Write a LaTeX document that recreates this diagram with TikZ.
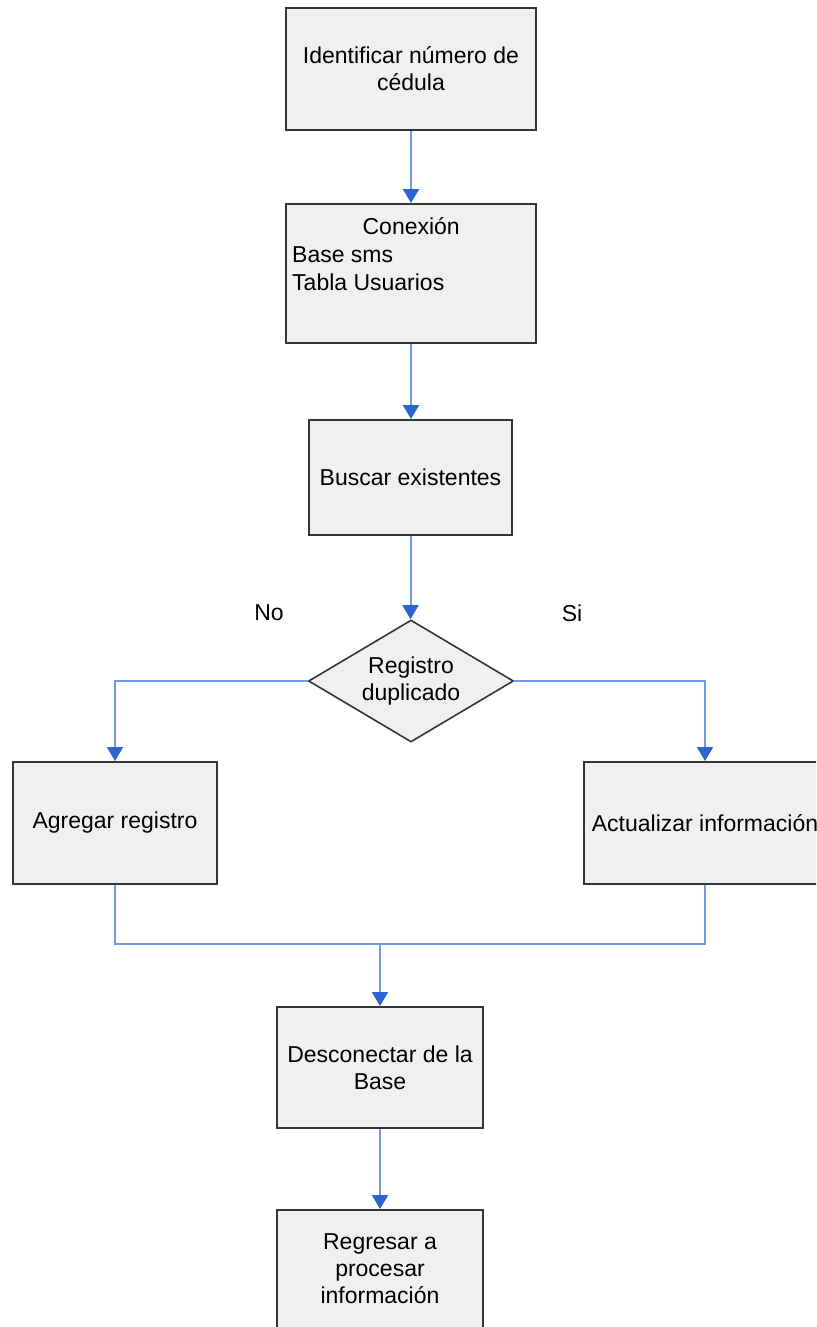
\documentclass[tikz,border=0pt]{standalone}
\usepackage{fontspec}
\setmainfont{Liberation Sans}
\usetikzlibrary{arrows.meta,shapes.geometric}
\definecolor{boxfill}{HTML}{F0F0F0}
\definecolor{boxline}{HTML}{353535}
\definecolor{linkblue}{HTML}{6E9DE6}
\definecolor{tipblue}{HTML}{2D63D4}
\tikzset{
  flowbox/.style={draw=boxline, line width=2pt, fill=boxfill, rectangle,
    inner sep=6pt, align=center, font=\fontsize{23}{27}\selectfont},
  decision/.style={draw=boxline, line width=1.6pt, fill=boxfill, diamond,
    aspect=1.68, inner sep=0pt, align=center, font=\fontsize{23}{27}\selectfont},
  lbl/.style={font=\fontsize{23}{27}\selectfont, inner sep=0pt},
  link/.style={draw=linkblue, line width=2pt},
  arrowlink/.style={link, -{Triangle[width=16pt,length=14pt,color=tipblue]}},
}
\begin{document}
\begin{tikzpicture}[x=1pt, y={(0pt,-1pt)}]
\useasboundingbox (0,0) rectangle (816,1327);
\clip (0,0) rectangle (816,1327);
\fill[white] (0,0) rectangle (816,1327);

\node[flowbox, minimum width=250pt, minimum height=122pt] (b1) at (411,69)
  {Identificar número de\\cédula};
\node[flowbox, minimum width=250pt, minimum height=139pt] (b2) at (411,273.5) {};
\node[lbl, anchor=north west, align=left, font=\fontsize{23}{28}\selectfont] (b2t) at (292,217)
  {\makebox[238pt]{Conexión}\\Base sms\\Tabla Usuarios};
\node[flowbox, minimum width=203pt, minimum height=115pt] (b3) at (410.5,477.5)
  {Buscar existentes};
\node[decision, minimum width=205pt, minimum height=122pt] (dec) at (411,681)
  {Registro\\duplicado};
\node[flowbox, minimum width=204pt, minimum height=122pt] (add) at (115,823)
  {Agregar registro};
\node[flowbox, minimum width=242pt, minimum height=122pt] (upd) at (705,823)
  {Actualizar información};
\node[flowbox, minimum width=206pt, minimum height=121pt] (disc) at (380,1067.5)
  {Desconectar de la\\Base};
\node[flowbox, minimum width=206pt, minimum height=118pt] (ret) at (380,1269)
  {Regresar a\\procesar\\información};

\node[lbl] (no) at (269,613) {No};
\node[lbl] (si) at (572,613) {Si};

\coordinate (mergeL) at (115,944);
\coordinate (mergeR) at (705,944);
\coordinate (mergeC) at (380,944);

\draw[arrowlink] (b1.south) -- (b2.north);
\draw[arrowlink] (b2.south) -- (b2.south |- b3.north);
\draw[arrowlink] (b3.south) -- (b3.south |- dec.north);
\draw[arrowlink] (dec.west) -| (add.north);
\draw[arrowlink] (dec.east) -| (upd.north);
\draw[link] (add.south) -- (mergeL) -- (mergeR) -- (upd.south);
\draw[arrowlink] (mergeC) -- (disc.north);
\draw[arrowlink] (disc.south) -- (ret.north);
\end{tikzpicture}
\end{document}
